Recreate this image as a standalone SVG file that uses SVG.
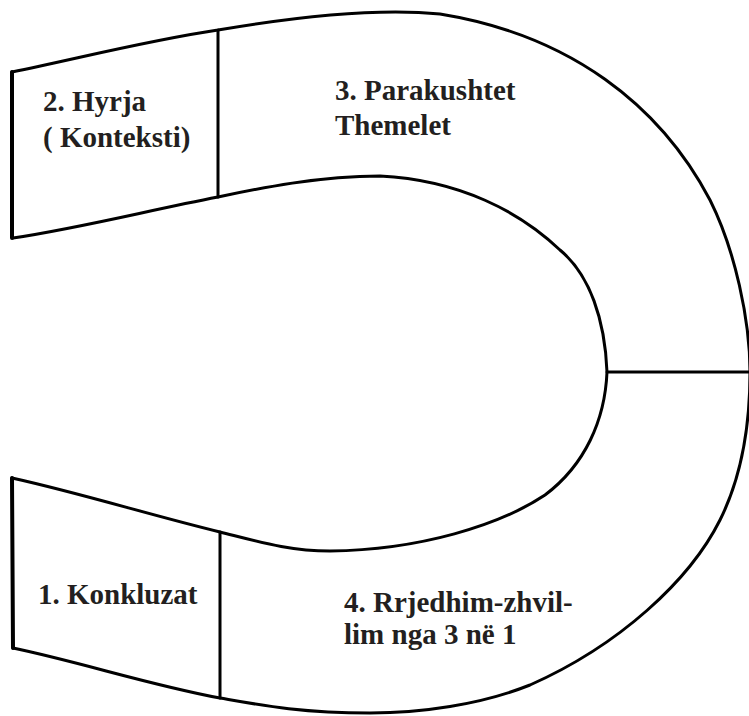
<svg xmlns="http://www.w3.org/2000/svg" width="749" height="716" viewBox="0 0 749 716">
  <style>
    .edge { fill: none; stroke: #000; stroke-width: 3; stroke-linejoin: round; stroke-linecap: round; }
    .thick { fill: none; stroke: #000; stroke-width: 4; stroke-linecap: round; }
    .label { font-family: "Liberation Serif", "Times New Roman", serif; font-weight: bold; font-size: 29px; fill: #231f20; }
  </style>
  <rect width="749" height="716" fill="#fff"/>
  <g id="horseshoe">
    <path class="edge" d="M12,72 C80,58 150,40 218,30 C300,16 380,8 440,14 C570,35 660,105 710,200 C735,250 750,320 750,372 C750,430 740,480 720,520 C690,580 620,645 530,685 C480,705 420,713 370,713 C300,713 260,705 220,698 C150,685 80,662 13,648"/>
    <path class="edge" d="M12,478 C80,493 150,515 220,532 C260,542 290,551 330,551 C420,550 500,525 545,495 C585,465 605,420 607,372 C605,320 590,275 560,250 C520,212 460,180 380,176 C320,176 260,188 218,197 C150,210 80,228 13,238"/>
    <line class="thick" x1="12" y1="72" x2="12" y2="238"/>
    <line class="thick" x1="12" y1="478" x2="13" y2="648"/>
  </g>
  <g id="connectors">
    <line class="edge" x1="218" y1="30" x2="218" y2="197"/>
    <line class="edge" x1="220" y1="532" x2="220" y2="698"/>
    <line class="edge" x1="607" y1="372" x2="750" y2="372"/>
  </g>
  <g id="node-2">
    <text class="label" x="43" y="111">2. Hyrja</text>
    <text class="label" x="43" y="147">( Konteksti)</text>
  </g>
  <g id="node-3">
    <text class="label" x="335" y="100">3. Parakushtet</text>
    <text class="label" x="335" y="135">Themelet</text>
  </g>
  <g id="node-1">
    <text class="label" x="38" y="604">1. Konkluzat</text>
  </g>
  <g id="node-4">
    <text class="label" x="344" y="612">4. Rrjedhim-zhvil-</text>
    <text class="label" x="344" y="644">lim nga 3 në 1</text>
  </g>
</svg>
